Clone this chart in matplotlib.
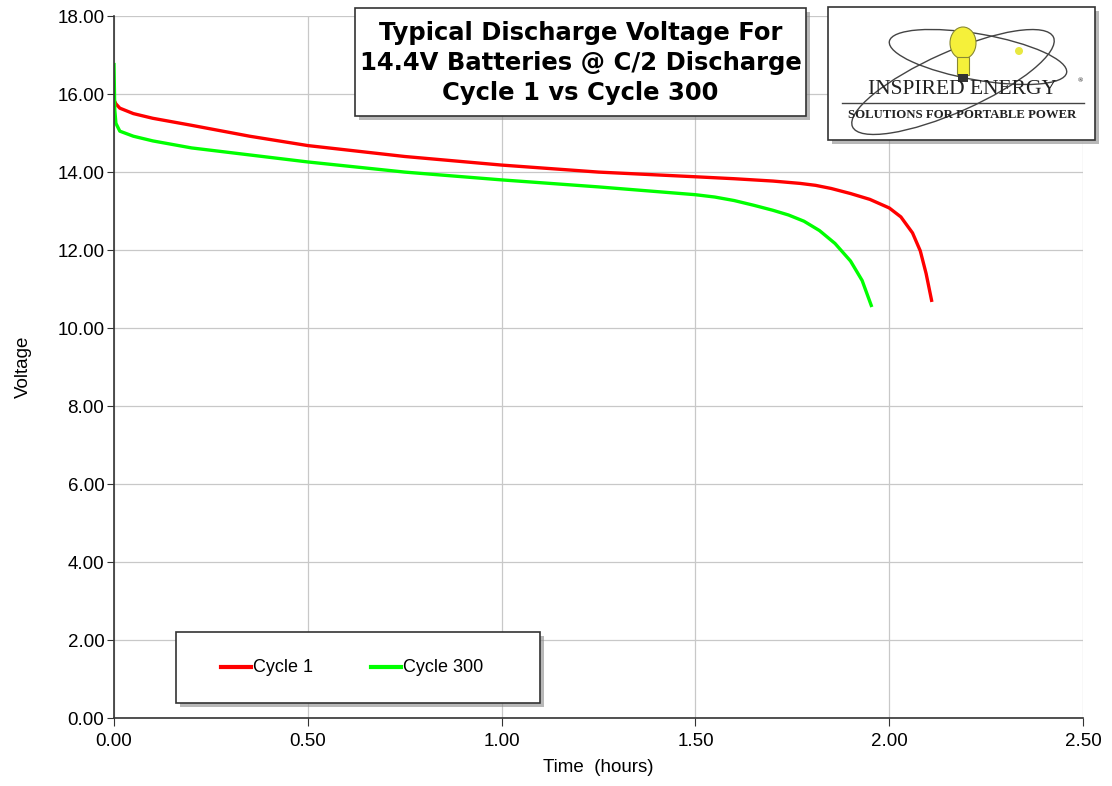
import matplotlib
matplotlib.use("Agg")
import matplotlib.pyplot as plt
from matplotlib.patches import Rectangle, Ellipse, Circle
from matplotlib.lines import Line2D

# values
t_c1 = [0, 0.005, 0.015, 0.05, 0.1, 0.2, 0.35, 0.5, 0.75, 1.0, 1.25, 1.5,
        1.6, 1.7, 1.77, 1.81, 1.85, 1.9, 1.95, 2.0, 2.03, 2.06, 2.08, 2.095, 2.11]
v_c1 = [15.85, 15.75, 15.64, 15.5, 15.38, 15.2, 14.92, 14.68, 14.4, 14.18, 14.0, 13.88,
        13.83, 13.77, 13.71, 13.66, 13.58, 13.45, 13.3, 13.08, 12.85, 12.44, 11.98, 11.4, 10.67]

t_c300 = [0, 0.002, 0.005, 0.015, 0.05, 0.1, 0.2, 0.35, 0.5, 0.75, 1.0, 1.25, 1.5,
          1.55, 1.6, 1.65, 1.7, 1.74, 1.78, 1.82, 1.86, 1.9, 1.93, 1.955]
v_c300 = [16.8, 15.6, 15.25, 15.05, 14.92, 14.8, 14.62, 14.44, 14.26, 14.0, 13.8, 13.62, 13.42,
          13.36, 13.27, 13.15, 13.02, 12.9, 12.74, 12.5, 12.17, 11.72, 11.22, 10.54]

x_ticks = [0, 0.5, 1.0, 1.5, 2.0, 2.5]
y_ticks = [0, 2, 4, 6, 8, 10, 12, 14, 16, 18]

plt.rcParams['font.family'] = ['Liberation Sans', 'DejaVu Sans']

fig = plt.figure(figsize=(11.12, 7.86), dpi=100)
ax = fig.add_axes([0.1025, 0.0865, 0.8715, 0.893])

ax.plot(t_c1, v_c1, color='#ff0000', lw=2.4, label='Cycle 1', solid_capstyle='butt')
ax.plot(t_c300, v_c300, color='#00ff00', lw=2.4, label='Cycle 300', solid_capstyle='butt')

ax.set_xlim(0, 2.5)
ax.set_ylim(0, 18)
ax.set_xticks(x_ticks)
ax.set_yticks(y_ticks)
ax.set_xticklabels(['%.2f' % v for v in x_ticks])
ax.set_yticklabels(['%.2f' % v for v in y_ticks])
ax.tick_params(labelsize=13.5, color='#333333')
ax.tick_params(axis='y', length=5, pad=2)
ax.tick_params(axis='x', length=6, pad=5)
ax.grid(True, color='#c8c8c8', lw=0.9)
ax.set_axisbelow(True)
for s in ['top', 'right']:
    ax.spines[s].set_visible(False)
for s in ['left', 'bottom']:
    ax.spines[s].set_color('#333333')
    ax.spines[s].set_linewidth(1.2)

ax.set_xlabel('Time  (hours)', fontsize=13.5, labelpad=6)
ax.set_ylabel('Voltage', fontsize=13.5, labelpad=18)

W, H = 1112.0, 786.0


def box(x0, y0, x1, y1):
    # box in pixel coords (top-left origin) with a drop shadow
    fx, fy = x0 / W, 1 - y1 / H
    w, h = (x1 - x0) / W, (y1 - y0) / H
    fig.patches.append(Rectangle((fx + 4 / W, fy - 4 / H), w, h, transform=fig.transFigure,
                                 facecolor='#8a8a8a', edgecolor='none', alpha=0.6, zorder=5))
    fig.patches.append(Rectangle((fx, fy), w, h, transform=fig.transFigure,
                                 facecolor='white', edgecolor='#333333', lw=1.2, zorder=6))


# title box
box(355, 8, 806, 116)
fig.text((355 + 806) / 2 / W, 1 - 63 / H,
         'Typical Discharge Voltage For\n14.4V Batteries @ C/2 Discharge\nCycle 1 vs Cycle 300',
         ha='center', va='center', fontsize=17.5, fontweight='bold', family='DejaVu Sans',
         linespacing=1.3, zorder=7)

# logo box
box(828, 7, 1095, 140)
lax = fig.add_axes([828 / W, 1 - 140 / H, 267 / W, 133 / H], zorder=8)
lax.set_xlim(0, 267)
lax.set_ylim(133, 0)
lax.axis('off')
lax.add_patch(Ellipse((150, 50), 180, 46, angle=10, fill=False, ec='#444444', lw=1.0))
lax.add_patch(Ellipse((125, 75), 220, 60, angle=-24, fill=False, ec='#444444', lw=1.0))
lax.add_patch(Circle((191, 44), 4, fc='#e8e840', ec='none'))
lax.add_patch(Ellipse((135, 36), 26, 32, fc='#f5f03a', ec='#888833', lw=0.8))
lax.add_patch(Rectangle((129, 50), 12, 18, fc='#f5f03a', ec='#888833', lw=0.8))
lax.add_patch(Rectangle((130, 67), 10, 8, fc='#333333', ec='none'))
lax.text(134, 83, 'INSPIRED ENERGY', ha='center', va='center', fontsize=15.5,
         family='Liberation Serif', color='#222222')
lax.text(250, 74, '®', ha='left', va='center', fontsize=5, family='Liberation Serif')
lax.plot([14, 256], [96, 96], color='#444444', lw=1.0)
lax.text(134, 108, 'SOLUTIONS FOR PORTABLE POWER', ha='center', va='center', fontsize=9.2,
         family='Liberation Serif', fontweight='bold', color='#222222')

# legend box
box(176, 632, 540, 703)
lgx = fig.add_axes([176 / W, 1 - 703 / H, 364 / W, 71 / H], zorder=8)
lgx.set_xlim(0, 364)
lgx.set_ylim(71, 0)
lgx.axis('off')
lgx.add_line(Line2D([45, 75], [35, 35], color='#ff0000', lw=3))
lgx.text(77, 35, 'Cycle 1', va='center', ha='left', fontsize=13)
lgx.add_line(Line2D([195, 225], [35, 35], color='#00ff00', lw=3))
lgx.text(227, 35, 'Cycle 300', va='center', ha='left', fontsize=13)

fig.savefig('out.png', dpi=100)
